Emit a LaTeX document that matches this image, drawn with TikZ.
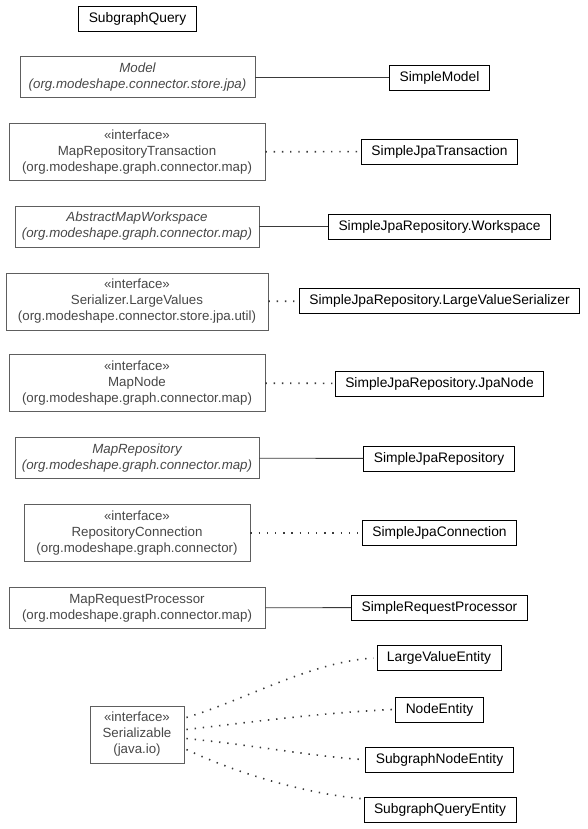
\documentclass[tikz,border=0pt]{standalone}
\usepackage{fontspec}
\setmainfont{Liberation Sans}
\usetikzlibrary{positioning}
\definecolor{umlgray}{HTML}{5E5E5E}
\definecolor{umltext}{HTML}{474747}
\definecolor{umlline}{HTML}{3A3A3A}
\tikzset{
  classbox/.style={draw=black, line width=0.9pt, font=\fontsize{13.8}{16}\selectfont, minimum height=25pt, inner xsep=10pt, inner ysep=2pt},
  superbox/.style={draw=umlgray, text=umltext, line width=0.9pt, font=\fontsize{13.3}{16}\selectfont, align=center, inner xsep=5pt, inner ysep=6.3pt},
  abstractbox/.style={superbox, font=\fontsize{13.3}{16}\selectfont\itshape},
  extends/.style={umlline, line width=0.9pt},
  realizes/.style={umlline, line width=1.6pt, dash pattern=on 1.4pt off 6.8pt}
}
\begin{document}
\begin{tikzpicture}[x=1pt,y=-1pt]
  \useasboundingbox (0,0) rectangle (587,829);
  % left column
  \node[classbox] (query) at (137.5,19) {SubgraphQuery};
  \node[abstractbox, minimum width=235pt] (model) at (137.5,77) {Model\\(org.modeshape.connector.store.jpa)};
  \node[superbox, minimum width=256pt] (maptx) at (137,152) {«interface»\\MapRepositoryTransaction\\(org.modeshape.graph.connector.map)};
  \node[abstractbox, minimum width=244pt] (workspace) at (137,226.5) {AbstractMapWorkspace\\(org.modeshape.graph.connector.map)};
  \node[superbox, minimum width=262pt] (largevalues) at (137,301.5) {«interface»\\Serializer.LargeValues\\(org.modeshape.connector.store.jpa.util)};
  \node[superbox, minimum width=256pt] (mapnode) at (137,383) {«interface»\\MapNode\\(org.modeshape.graph.connector.map)};
  \node[abstractbox, minimum width=244pt] (maprepo) at (137,458) {MapRepository\\(org.modeshape.graph.connector.map)};
  \node[superbox, minimum width=226pt] (repoconn) at (137,533) {«interface»\\RepositoryConnection\\(org.modeshape.graph.connector)};
  \node[superbox, minimum width=256pt] (processor) at (137,608) {MapRequestProcessor\\(org.modeshape.graph.connector.map)};
  \node[superbox, minimum width=94pt] (serializable) at (137,734.5) {«interface»\\Serializable\\(java.io)};
  % right column
  \node[classbox] (simplemodel) at (439.5,78) {SimpleModel};
  \node[classbox] (jpatx) at (439.5,151.5) {SimpleJpaTransaction};
  \node[classbox] (jpaws) at (439.5,226.5) {SimpleJpaRepository.Workspace};
  \node[classbox] (jpalvs) at (439.5,301) {SimpleJpaRepository.LargeValueSerializer};
  \node[classbox] (jpanode) at (439.5,383.5) {SimpleJpaRepository.JpaNode};
  \node[classbox] (jparepo) at (439,458.5) {SimpleJpaRepository};
  \node[classbox] (jpaconn) at (439.5,533) {SimpleJpaConnection};
  \node[classbox] (reqproc) at (439.5,607.5) {SimpleRequestProcessor};
  \node[classbox] (lventity) at (439,658) {LargeValueEntity};
  \node[classbox] (nodeentity) at (439.5,709.5) {NodeEntity};
  \node[classbox] (sgnentity) at (439.5,759.5) {SubgraphNodeEntity};
  \node[classbox] (sgqentity) at (440,809.5) {SubgraphQueryEntity};
  % connectors
  \draw[extends] (model) -- (model -| simplemodel.west);
  \draw[realizes] (maptx) -- (jpatx);
  \draw[extends] (workspace) -- (jpaws);
  \draw[realizes] (largevalues) -- (jpalvs);
  \draw[realizes] (mapnode) -- (jpanode);
  \draw[extends] (maprepo) -- (jparepo);
  \draw[realizes] (repoconn) -- (jpaconn);
  \draw[extends] (processor) -- (reqproc);
  \draw[realizes] ([xshift=2pt,yshift=17pt]serializable.east) .. controls (245,700) and (310,662) .. ([xshift=-3pt]lventity.west);
  \draw[realizes] ([xshift=2pt,yshift=5pt]serializable.east) .. controls (260,721) and (320,713) .. ([xshift=-3pt]nodeentity.west);
  \draw[realizes] ([xshift=2pt,yshift=-4pt]serializable.east) .. controls (260,746) and (310,756) .. ([xshift=-3pt]sgnentity.west);
  \draw[realizes] ([xshift=2pt,yshift=-15pt]serializable.east) .. controls (240,775) and (310,794) .. ([xshift=-3pt,yshift=-2pt]sgqentity.north west);
\end{tikzpicture}
\end{document}
